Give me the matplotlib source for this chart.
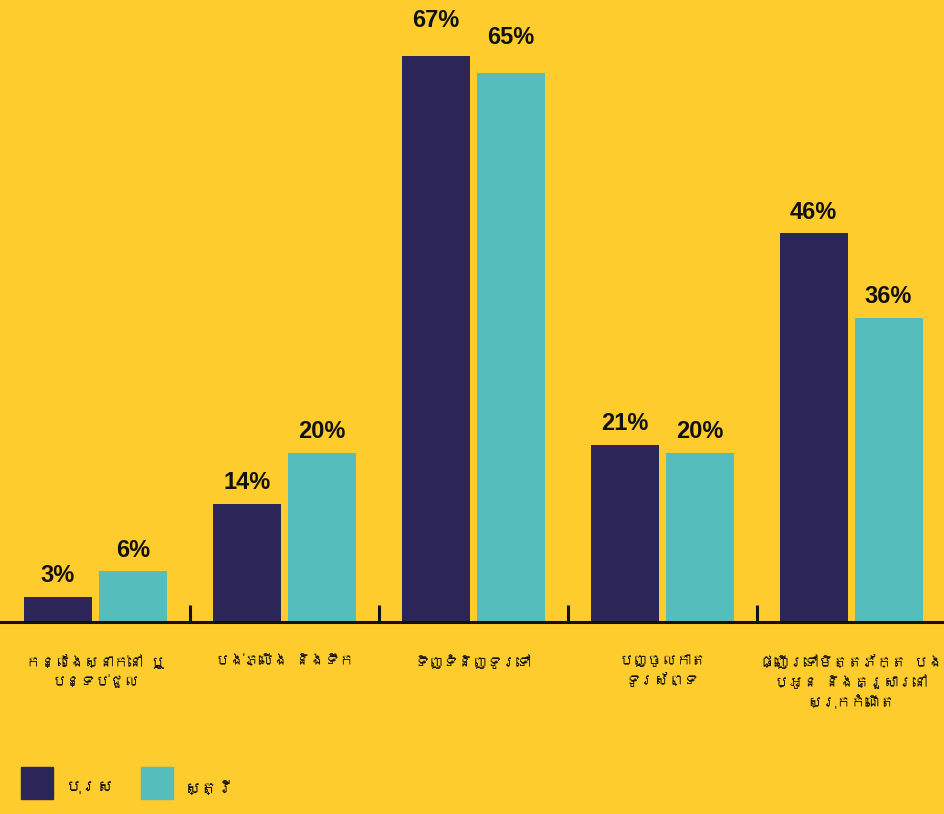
import matplotlib
matplotlib.use("Agg")
import matplotlib.pyplot as plt
import numpy as np
from matplotlib import font_manager
from matplotlib.ft2font import FT2Font
from matplotlib.patches import Rectangle

categories = [
    "កន្លែងស្នាក់នៅ ឬ\nបន្ទប់ជួល",
    "បង់ភ្លើង និងទឹក",
    "ទិញទំនិញទូរទៅ",
    "បញ្ចូលកាត\nទូរស័ព្ទ",
    "ផ្ញើរទៅមិត្តភ័ក្ត បង\nប្អូន និងគ្រួសារនៅ\nស្រុកកំណើត",
]
men = [3, 14, 67, 21, 46]
women = [6, 20, 65, 20, 36]
series_names = ["បុរស", "ស្ត្រី"]

BG = "#FFCC2E"
DARK = "#2C2557"
TEAL = "#55BDBC"

# find a font with Khmer coverage if any
khmer_font = None
for f in font_manager.fontManager.ttflist:
    try:
        ft = FT2Font(f.fname)
        if 0x1780 in ft.get_charmap():
            khmer_font = f.name
            break
    except Exception:
        pass
kfam = [khmer_font, "DejaVu Sans"] if khmer_font else ["DejaVu Sans"]

W, H = 945, 814
fig = plt.figure(figsize=(W / 100, H / 100), dpi=100, facecolor=BG)
ax = fig.add_axes([0, (H - 622) / H, 1, 622 / H])
ax.set_facecolor(BG)

x = np.arange(len(categories))
bw = 68 / 189
off = 37.5 / 189
ax.bar(x - off, men, bw, color=DARK, zorder=2)
ax.bar(x + off, women, bw, color=TEAL, zorder=2)

ax.set_xlim(-95.5 / 189, 4 + 94 / 189)
ax.set_ylim(0, 622 / 8.45)

for xs, vals in ((x - off, men), (x + off, women)):
    for xi, v in zip(xs, vals):
        extra = 10 if v > 60 else 0
        ax.annotate(f"{v}%", (xi, v), xytext=(0, 7 + extra), textcoords="offset points",
                    ha="center", va="bottom", fontsize=17, fontweight="bold",
                    family=["Liberation Sans", "DejaVu Sans"], color="#111111")

for s in ["top", "right", "left"]:
    ax.spines[s].set_visible(False)
ax.spines["bottom"].set_linewidth(2.2)
ax.spines["bottom"].set_color("#111111")
ax.set_yticks([])
ax.set_xticks(x[:-1] + 0.5)
ax.set_xticklabels([])
ax.tick_params(axis="x", direction="in", length=12, width=2.2, color="#111111")

for xi, lab in zip(x, categories):
    ax.text(xi, -0.052, lab, transform=ax.get_xaxis_transform(), ha="center", va="top",
            fontsize=10.5, family=kfam, color="#111111", linespacing=1.4,
            multialignment="center")

# legend
for (px, col, name, tx) in ((21, DARK, series_names[0], 65), (141, TEAL, series_names[1], 185)):
    fig.patches.append(Rectangle((px / W, (H - 799) / H), 32 / W, 32 / H,
                                 transform=fig.transFigure, color=col))
    fig.text(tx / W, (H - 788) / H, name, ha="left", va="center", fontsize=12,
             family=kfam, color="#111111")

fig.savefig("out.png", dpi=100, facecolor=BG)
